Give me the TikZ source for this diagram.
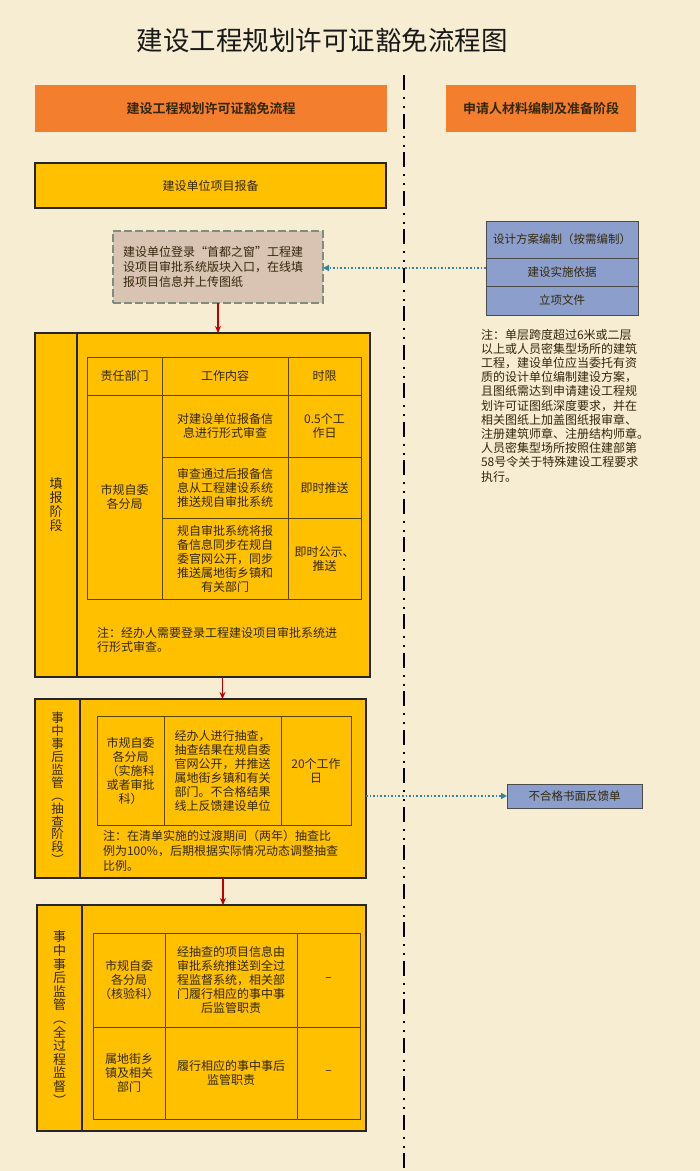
\documentclass[tikz,border=0pt]{standalone}
\usepackage{fontspec}
\setmainfont{Noto Sans CJK SC}[BoldFont={Noto Sans CJK SC Bold}]
\usetikzlibrary{arrows.meta}
\definecolor{bg}{HTML}{F6EDD3}
\definecolor{hdr}{HTML}{F37E2E}
\definecolor{yel}{HTML}{FFC000}
\definecolor{blu}{HTML}{8C9FCC}
\definecolor{tan}{HTML}{D9C4B3}
\definecolor{gborder}{HTML}{7F8C80}
\definecolor{txt}{HTML}{33270A}
\definecolor{tline}{HTML}{5A4500}
\definecolor{darkred}{HTML}{C00000}
\definecolor{tealc}{HTML}{31849B}
\newcommand{\fs}[2]{\fontsize{#1}{#2}\selectfont}
\tikzset{
  every node/.style={inner sep=0pt, outer sep=0pt, text=txt},
  hdrbox/.style={fill=hdr, anchor=north west, font=\fs{13}{15}\bfseries},
  yelbox/.style={fill=yel, draw=black!85, line width=1.2pt, anchor=north west},
  labbox/.style={fill=yel, draw=black!85, line width=1.2pt, anchor=north west, align=center},
  cell/.style={draw=tline, line width=0.8pt, anchor=north west, align=center, font=\fs{12}{14}},
  blubox/.style={fill=blu, draw=black!70, line width=0.8pt, anchor=north west, font=\fs{11.5}{14}},
  redarrow/.style={draw=darkred, line width=1.5pt, -{Stealth[length=7pt,width=6pt]}},
  tealarrow/.style={draw=tealc, line width=1.6pt, dotted, -{Triangle[length=6pt,width=6pt]}},
  sepline/.style={draw=black, line width=2pt, dash pattern=on 15pt off 7pt on 2pt off 7pt on 2pt off 5.5pt},
  notetext/.style={anchor=north west, align=left, font=\fs{12}{14.5}},
}
\begin{document}
\begin{tikzpicture}[x=1pt,y=-1pt]
\fill[bg] (0,0) rectangle (700,1171);
\useasboundingbox (0,0) rectangle (700,1171);

% title
\node[font=\fs{26.5}{30}, text=black!90] (title) at (322,40) {建设工程规划许可证豁免流程图};

% separator
\coordinate (septop) at (404,75);
\coordinate (sepbot) at (404,1171);
\draw[sepline] (septop) -- (sepbot);

% headers
\node[hdrbox, minimum width=352pt, minimum height=47pt] (hleft) at (35,85) {建设工程规划许可证豁免流程};
\node[hdrbox, minimum width=190pt, minimum height=47pt] (hright) at (446,85) {申请人材料编制及准备阶段};

% project filing
\node[yelbox, minimum width=351pt, minimum height=45pt, font=\fs{12}{14}] (filing) at (35,163) {建设单位项目报备};

% gray dashed box
\node[fill=tan, draw=gborder, line width=2.6pt, dash pattern=on 8pt off 3pt, anchor=north west,
      minimum width=210pt, minimum height=72pt, text width=190pt, inner xsep=10pt, align=left,
      font=\fs{12}{15}] (gray) at (113,231)
  {建设单位登录“首都之窗”工程建\\设项目审批系统版块入口，在线填\\报项目信息并上传图纸};

% right blue boxes
\node[blubox, minimum width=152pt, minimum height=37pt] (blue1) at (486,221) {设计方案编制（按需编制）};
\node[blubox, minimum width=152pt, minimum height=28pt] (blue2) at (486,258) {建设实施依据};
\node[blubox, minimum width=152pt, minimum height=29pt] (blue3) at (486,286) {立项文件};

\node[notetext, font=\fs{12}{14.2}] (rnote) at (481,329)
  {注：单层跨度超过6米或二层\\以上或人员密集型场所的建筑\\工程，建设单位应当委托有资\\质的设计单位编制建设方案，\\且图纸需达到申请建设工程规\\划许可证图纸深度要求，并在\\相关图纸上加盖图纸报审章、\\注册建筑师章、注册结构师章。\\人员密集型场所按照住建部第\\58号令关于特殊建设工程要求\\执行。};

% ---------- stage 1 ----------
\node[labbox, minimum width=42pt, minimum height=344pt, font=\fs{13}{14}] (lab1) at (35,333) {填\\报\\阶\\段};
\node[yelbox, minimum width=293pt, minimum height=344pt] (main1) at (77,333) {};
\node[cell, minimum width=75pt, minimum height=38pt] (h11) at (87,357) {责任部门};
\node[cell, minimum width=126pt, minimum height=38pt] (h12) at (162,357) {工作内容};
\node[cell, minimum width=73pt, minimum height=38pt] (h13) at (288,357) {时限};
\node[cell, minimum width=75pt, minimum height=204pt] (d1) at (87,395) {市规自委\\各分局};
\node[cell, minimum width=126pt, minimum height=62pt] (c11) at (162,395) {对建设单位报备信\\息进行形式审查};
\node[cell, minimum width=73pt, minimum height=62pt] (t11) at (288,395) {0.5个工\\作日};
\node[cell, minimum width=126pt, minimum height=61pt] (c12) at (162,457) {审查通过后报备信\\息从工程建设系统\\推送规自审批系统};
\node[cell, minimum width=73pt, minimum height=61pt] (t12) at (288,457) {即时推送};
\node[cell, minimum width=126pt, minimum height=81pt] (c13) at (162,518) {规自审批系统将报\\备信息同步在规自\\委官网公开，同步\\推送属地街乡镇和\\有关部门};
\node[cell, minimum width=73pt, minimum height=81pt] (t13) at (288,518) {即时公示、\\推送};
\node[notetext, font=\fs{12}{14}] (note1) at (97,627) {注：经办人需要登录工程建设项目审批系统进\\行形式审查。};

% ---------- stage 2 ----------
\node[labbox, minimum width=45pt, minimum height=179pt, font=\fs{12.5}{12.9}] (lab2) at (35,699)
  {事\\中\\事\\后\\监\\管\\︵\\抽\\查\\阶\\段\\︶};
\node[yelbox, minimum width=286pt, minimum height=179pt] (main2) at (80,699) {};
\node[cell, minimum width=67pt, minimum height=109pt] (d2) at (97,716) {市规自委\\各分局\\（实施科\\或者审批\\科）};
\node[cell, minimum width=117pt, minimum height=109pt] (c2) at (164,716) {经办人进行抽查，\\抽查结果在规自委\\官网公开，并推送\\属地街乡镇和有关\\部门。不合格结果\\线上反馈建设单位};
\node[cell, minimum width=70pt, minimum height=109pt] (t2) at (281,716) {20个工作\\日};
\node[notetext, font=\fs{12}{15}] (note2) at (103,830) {注：在清单实施的过渡期间（两年）抽查比\\例为100\%，后期根据实际情况动态调整抽查\\比例。};

\node[blubox, minimum width=135pt, minimum height=24pt] (fb) at (507,784) {不合格书面反馈单};

% ---------- stage 3 ----------
\node[labbox, minimum width=45pt, minimum height=226pt, font=\fs{13}{13.6}] (lab3) at (37,905)
  {事\\中\\事\\后\\监\\管\\︵\\全\\过\\程\\监\\督\\︶};
\node[yelbox, minimum width=284pt, minimum height=226pt] (main3) at (82,905) {};
\node[cell, minimum width=72pt, minimum height=94pt] (d31) at (93,933) {市规自委\\各分局\\（核验科）};
\node[cell, minimum width=132pt, minimum height=94pt] (c31) at (165,933) {经抽查的项目信息由\\审批系统推送到全过\\程监督系统，相关部\\门履行相应的事中事\\后监管职责};
\node[cell, minimum width=63pt, minimum height=94pt] (t31) at (297,933) {–};
\node[cell, minimum width=72pt, minimum height=92pt] (d32) at (93,1027) {属地街乡\\镇及相关\\部门};
\node[cell, minimum width=132pt, minimum height=92pt] (c32) at (165,1027) {履行相应的事中事后\\监管职责};
\node[cell, minimum width=63pt, minimum height=92pt] (t32) at (297,1027) {–};

% ---------- connectors ----------
\draw[redarrow] (gray.south) -- (gray.south |- main1.north);
\draw[redarrow] ([xshift=-1pt]main1.south) -- ([xshift=-1pt]main1.south |- main2.north);
\draw[redarrow] (main2.south) -- (main2.south |- main3.north);
\draw[tealarrow] ([yshift=4pt]blue2.west) -- ([yshift=4pt]blue2.west -| gray.east);
\draw[tealarrow] (main2.east |- fb.west) -- (fb.west);
\end{tikzpicture}
\end{document}
